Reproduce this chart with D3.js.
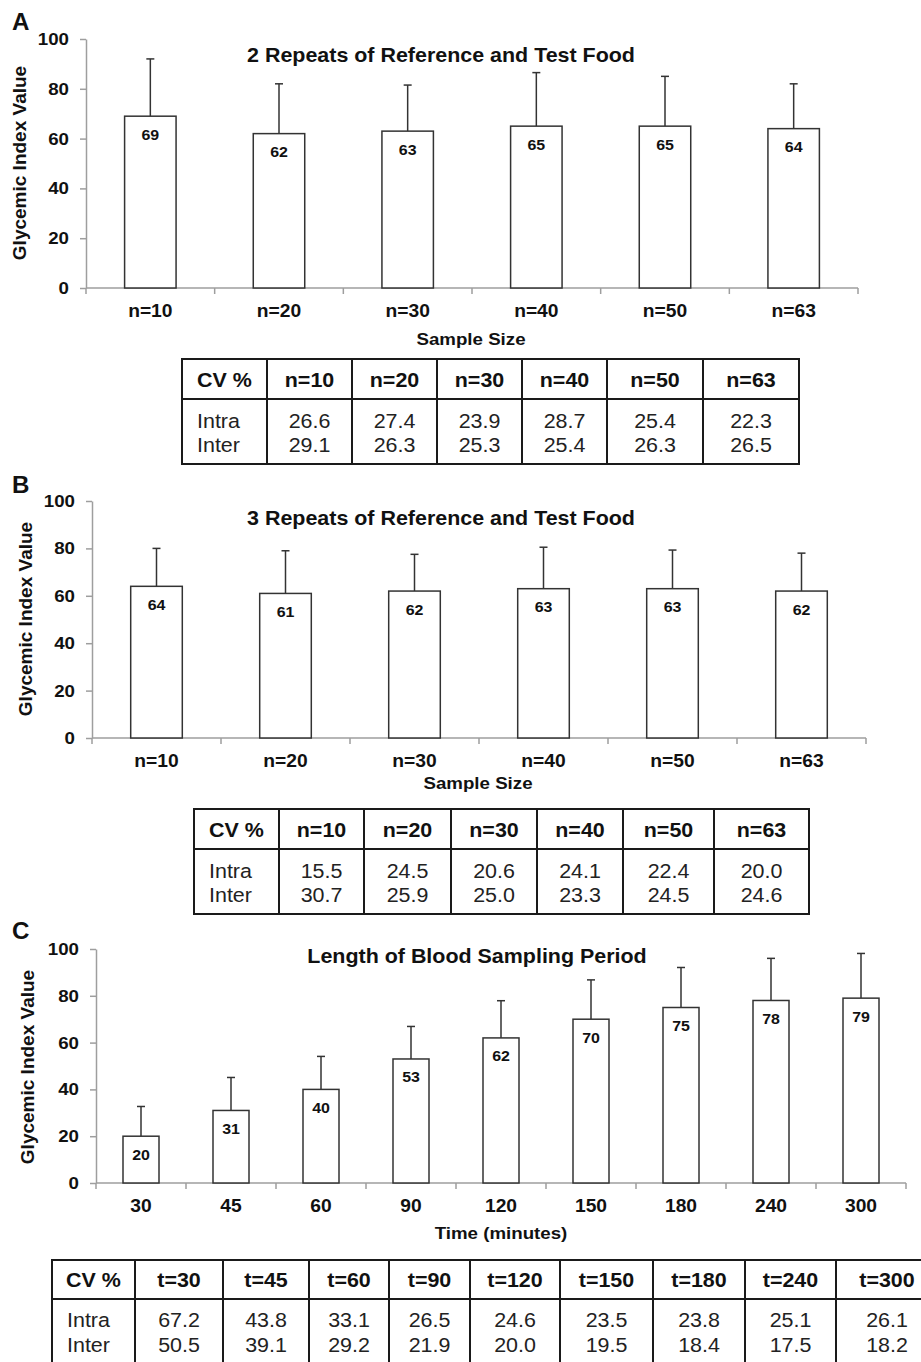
<!DOCTYPE html>
<html>
<head>
<meta charset="utf-8">
<script src="https://cdn.jsdelivr.net/npm/d3@7"></script>
<style>
  html, body { margin: 0; padding: 0; background: #fff; }
  svg { display: block; }
</style>
</head>
<body>
<script>
// ---- Data ----
const yTicks = [0, 20, 40, 60, 80, 100];

// A: 2 repeats of reference and test food
const catsA = ["n=10", "n=20", "n=30", "n=40", "n=50", "n=63"];
const giA = [69, 62, 63, 65, 65, 64];
const sdA = [23, 20, 18.5, 21.5, 20, 18];
const intraA = [26.6, 27.4, 23.9, 28.7, 25.4, 22.3];
const interA = [29.1, 26.3, 25.3, 25.4, 26.3, 26.5];

// B: 3 repeats of reference and test food
const catsB = ["n=10", "n=20", "n=30", "n=40", "n=50", "n=63"];
const giB = [64, 61, 62, 63, 63, 62];
const sdB = [16, 18, 15.5, 17.5, 16.3, 16];
const intraB = [15.5, 24.5, 20.6, 24.1, 22.4, 20.0];
const interB = [30.7, 25.9, 25.0, 23.3, 24.5, 24.6];

// C: length of blood sampling period (minutes)
const catsC = ["30", "45", "60", "90", "120", "150", "180", "240", "300"];
const giC = [20, 31, 40, 53, 62, 70, 75, 78, 79];
const sdC = [12.7, 14.1, 14.1, 13.9, 15.9, 16.8, 17.1, 18, 19.1];
const headC = ["t=30", "t=45", "t=60", "t=90", "t=120", "t=150", "t=180", "t=240", "t=300"];
const intraC = [67.2, 43.8, 33.1, 26.5, 24.6, 23.5, 23.8, 25.1, 26.1];
const interC = [50.5, 39.1, 29.2, 21.9, 20.0, 19.5, 18.4, 17.5, 18.2];

// ---- Styling ----
const FONT = "'Liberation Sans', Arial, Helvetica, sans-serif";
const INK = "#111";
const AXIS = "#9e9e9e";
const BAR = "#333";
const SX = 1.1; // slight horizontal widening of the lettering

const W = 921, H = 1362;
const svg = d3.select("body").append("svg").attr("width", W).attr("height", H);
svg.append("rect").attr("width", W).attr("height", H).attr("fill", "#fff");

// text helper: anchored at (x, y) and widened horizontally by sx
function label(g, x, y, str, o = {}) {
  const sx = o.sx ?? SX;
  const rot = o.rotate ? ` rotate(${o.rotate})` : "";
  return g.append("text")
    .attr("transform", `translate(${x},${y})${rot} scale(${sx},1)`)
    .attr("text-anchor", o.anchor || "middle")
    .attr("font-family", FONT)
    .attr("font-size", o.size || 16)
    .attr("font-weight", o.weight || "bold")
    .attr("fill", o.fill || INK)
    .text(str);
}

function drawPanel(cfg) {
  const g = svg.append("g");
  const x = d3.scaleBand().domain(cfg.cats).range([cfg.x0, cfg.x1])
    .paddingInner(0.6).paddingOuter(0.3);
  const y = d3.scaleLinear().domain([0, 100]).range([cfg.yb, cfg.yt]);
  const bw = x.bandwidth();
  const half = (x.step() - bw) / 2;

  // y axis
  const ya = g.append("g").attr("transform", `translate(${cfg.x0},0)`)
    .call(d3.axisLeft(y).tickValues(yTicks).tickSize(6).tickSizeOuter(0).tickPadding(11));
  ya.select(".domain").attr("stroke", AXIS).attr("stroke-width", 1.5);
  ya.selectAll(".tick line").attr("stroke", AXIS).attr("stroke-width", 1.5);
  ya.selectAll(".tick text")
    .attr("font-family", FONT).attr("font-size", 17).attr("font-weight", "bold")
    .attr("fill", INK).attr("x", -17 / SX).attr("transform", `scale(${SX},1)`);

  // x axis: baseline, boundary ticks and category labels
  g.append("line").attr("x1", cfg.x0).attr("x2", cfg.x1)
    .attr("y1", y(0)).attr("y2", y(0))
    .attr("stroke", AXIS).attr("stroke-width", 1.5);
  const bounds = cfg.cats.map(c => x(c) - half).concat([x(cfg.cats[cfg.cats.length - 1]) + bw + half]);
  g.selectAll("line.xt").data(bounds).join("line").attr("class", "xt")
    .attr("x1", d => d).attr("x2", d => d)
    .attr("y1", y(0)).attr("y2", y(0) + 6)
    .attr("stroke", AXIS).attr("stroke-width", 1.5);
  const xa = g.append("g").attr("transform", `translate(0,${y(0)})`)
    .call(d3.axisBottom(x).tickSize(0).tickPadding(17));
  xa.select(".domain").remove();
  xa.selectAll(".tick text")
    .attr("font-family", FONT).attr("font-size", 17.5).attr("font-weight", "bold")
    .attr("fill", INK).attr("transform", `scale(${SX},1)`);

  const data = cfg.cats.map((c, i) => ({ c, v: cfg.gi[i], sd: cfg.sd[i] }));

  // error bars (upper whisker)
  g.selectAll("line.eb").data(data).join("line").attr("class", "eb")
    .attr("x1", d => x(d.c) + bw / 2).attr("x2", d => x(d.c) + bw / 2)
    .attr("y1", d => y(d.v)).attr("y2", d => y(d.v + d.sd))
    .attr("stroke", BAR).attr("stroke-width", 1.5);
  g.selectAll("line.cap").data(data).join("line").attr("class", "cap")
    .attr("x1", d => x(d.c) + bw / 2 - 4).attr("x2", d => x(d.c) + bw / 2 + 4)
    .attr("y1", d => y(d.v + d.sd)).attr("y2", d => y(d.v + d.sd))
    .attr("stroke", BAR).attr("stroke-width", 1.5);

  // bars
  g.selectAll("rect.bar").data(data).join("rect").attr("class", "bar")
    .attr("x", d => x(d.c)).attr("y", d => y(d.v))
    .attr("width", bw).attr("height", d => y(0) - y(d.v))
    .attr("fill", "#fff").attr("stroke", BAR).attr("stroke-width", 1.5);

  // value labels inside bars
  data.forEach(d => label(g, x(d.c) + bw / 2, y(d.v) + 23.5, String(d.v), { size: 14.5 }));

  // titles
  label(g, cfg.titleX, cfg.titleY, cfg.title, { size: 19.5 });
  label(g, cfg.xtX, cfg.xtY, cfg.xTitle, { size: 17 });
  label(g, cfg.ytX, cfg.ytY, "Glycemic Index Value", { size: 19, rotate: -90, sx: 1 });
  label(g, cfg.letterX, cfg.letterY, cfg.letter, { size: 23, anchor: "start", sx: 1.05 });
}

function drawTable(cfg) {
  const g = svg.append("g");
  const cols = cfg.cols, [top, mid, bot] = cfg.rows;
  g.append("rect").attr("x", cols[0]).attr("y", top)
    .attr("width", cols[cols.length - 1] - cols[0]).attr("height", bot - top)
    .attr("fill", "none").attr("stroke", "#1a1a1a").attr("stroke-width", 2);
  g.append("line").attr("x1", cols[0]).attr("x2", cols[cols.length - 1])
    .attr("y1", mid).attr("y2", mid).attr("stroke", "#1a1a1a").attr("stroke-width", 2);
  g.selectAll("line.cl").data(cols.slice(1, -1)).join("line").attr("class", "cl")
    .attr("x1", d => d).attr("x2", d => d).attr("y1", top).attr("y2", bot)
    .attr("stroke", "#1a1a1a").attr("stroke-width", 2);

  const headers = ["CV %"].concat(cfg.heads);
  const cx = i => (cols[i] + cols[i + 1]) / 2;
  headers.forEach((h, i) => label(g, cx(i), cfg.headY, h, { size: 19.5 }));
  label(g, cols[0] + 15, cfg.r1Y, "Intra", { size: 19.5, weight: "normal", anchor: "start", fill: "#222" });
  label(g, cols[0] + 15, cfg.r2Y, "Inter", { size: 19.5, weight: "normal", anchor: "start", fill: "#222" });
  cfg.intra.forEach((v, i) => label(g, cx(i + 1), cfg.r1Y, v.toFixed(1), { size: 19.5, weight: "normal", fill: "#222" }));
  cfg.inter.forEach((v, i) => label(g, cx(i + 1), cfg.r2Y, v.toFixed(1), { size: 19.5, weight: "normal", fill: "#222" }));
}

// ---- Panel A ----
drawPanel({
  cats: catsA, gi: giA, sd: sdA,
  x0: 86, x1: 858, yb: 288, yt: 39,
  title: "2 Repeats of Reference and Test Food", titleX: 441, titleY: 62,
  xTitle: "Sample Size", xtX: 471, xtY: 345,
  ytX: 26, ytY: 163, letter: "A", letterX: 12, letterY: 30
});
drawTable({
  cols: [182, 267, 352, 437, 522, 607, 703, 799], rows: [359, 399, 464],
  heads: catsA, intra: intraA, inter: interA, headY: 387, r1Y: 428, r2Y: 452
});

// ---- Panel B ----
drawPanel({
  cats: catsB, gi: giB, sd: sdB,
  x0: 92, x1: 866, yb: 738, yt: 501,
  title: "3 Repeats of Reference and Test Food", titleX: 441, titleY: 525,
  xTitle: "Sample Size", xtX: 478, xtY: 789,
  ytX: 32, ytY: 619, letter: "B", letterX: 12, letterY: 493
});
drawTable({
  cols: [194, 279, 364, 451, 537, 623, 714, 809], rows: [809, 849, 914],
  heads: catsB, intra: intraB, inter: interB, headY: 837, r1Y: 878, r2Y: 902
});

// ---- Panel C ----
drawPanel({
  cats: catsC, gi: giC, sd: sdC,
  x0: 96, x1: 906, yb: 1183, yt: 949,
  title: "Length of Blood Sampling Period", titleX: 477, titleY: 963,
  xTitle: "Time (minutes)", xtX: 501, xtY: 1239,
  ytX: 34, ytY: 1067, letter: "C", letterX: 12, letterY: 939
});
drawTable({
  cols: [52, 135, 223, 309, 389, 470, 560, 653, 745, 836, 938], rows: [1260, 1299, 1368],
  heads: headC, intra: intraC, inter: interC, headY: 1287, r1Y: 1327, r2Y: 1352
});
</script>
</body>
</html>
